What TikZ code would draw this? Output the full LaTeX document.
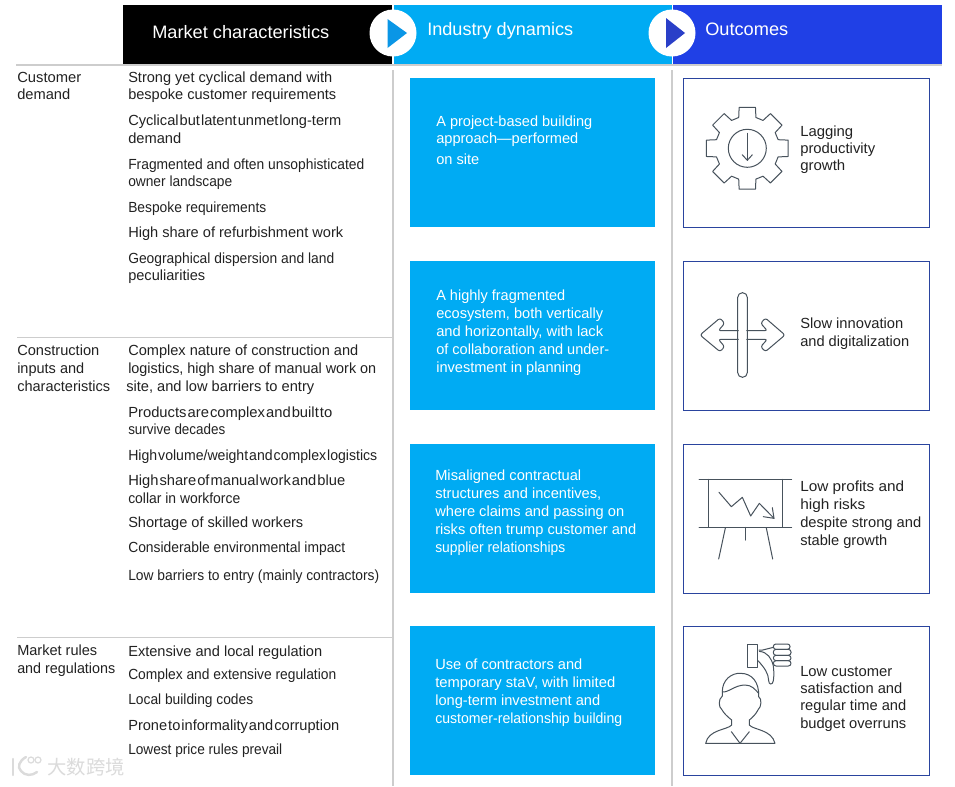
\documentclass[tikz,border=0pt]{standalone}
\usepackage{fontspec}
\setmainfont{Liberation Sans}
\newfontfamily\cjkwm{Noto Sans CJK SC}
\definecolor{lblue}{HTML}{00ABF3}
\definecolor{dblue}{HTML}{2040E6}
\definecolor{tria}{HTML}{0A96E6}
\definecolor{trib}{HTML}{2A3FC8}
\definecolor{bordblue}{HTML}{2A449E}
\definecolor{rulegray}{HTML}{CDCDCD}
\definecolor{icon}{HTML}{47525C}
\definecolor{txt}{HTML}{222222}
\newcommand{\fw}[2]{\strut\resizebox{\dimexpr #1pt*3/4\relax}{\height}{#2}}
\newcommand{\tw}[2]{\strut\resizebox{\dimexpr #1pt*3/4\relax}{\height}{\spaceskip=.07em\relax #2}}
\newcommand{\itm}[5][txt]{\node[item,text=#1] (#2) at (#3,#4-12.13) {#5};}
\newcommand{\itmw}[5][txt]{\node[itemw,text=#1] (#2) at (#3,#4-12.6) {#5};}
\tikzset{
  x=0.75pt,y=-0.75pt,
  item/.style={anchor=north west,inner sep=0pt,align=left,font=\fontsize{11}{13}\selectfont},
  itemw/.style={anchor=north west,inner sep=0pt,align=left,font=\fontsize{11}{13.5}\selectfont},
  head/.style={anchor=base west,inner sep=0pt,text=white,font=\fontsize{13.5}{16}\selectfont},
  bluebox/.style={fill=lblue,draw=none},
  outbox/.style={draw=bordblue,line width=0.6pt,fill=white},
  ico/.style={draw=icon,line width=0.75pt,line join=round,line cap=round},
  wm/.style={draw=black!14,line width=1.8pt,line cap=round}
}
\begin{document}
\begin{tikzpicture}
\useasboundingbox[fill=white] (0,0) rectangle (955,786);
% header bands
\fill[black] (123,5) rectangle (392,64);
\fill[lblue] (394,5) rectangle (671.5,64);
\fill[dblue] (673,5) rectangle (942,64);
% rules
\draw[rulegray,line width=1.5pt] (16,65) -- (942,65);
\draw[rulegray,line width=1.5pt] (393,70) -- (393,786);
\draw[rulegray,line width=1.5pt] (672,70) -- (672,786);
\draw[rulegray,line width=0.75pt] (17,337.5) -- (392,337.5);
\draw[rulegray,line width=0.75pt] (17,637.5) -- (392,637.5);
% header text
\node[head] (h1) at (152,38) {\resizebox{\dimexpr 177pt*3/4\relax}{\height}{Market characteristics}};
\node[head] (h2) at (427,35) {\resizebox{\dimexpr 146pt*3/4\relax}{\height}{Industry dynamics}};
\node[head] (h3) at (705,35) {\resizebox{\dimexpr 83pt*3/4\relax}{\height}{Outcomes}};
% chevrons
\fill[white] (393,33) circle (23.5);
\fill[white] (672,33) circle (23.5);
\fill[tria] (387.5,19) -- (407,33) -- (387.5,48) -- cycle;
\fill[trib] (666,18) -- (685,33) -- (666,48) -- cycle;
% row labels
\itm{l1}{17}{82}{\fw{64}{Customer}\\\fw{53}{demand}}
\itmw{l2}{17}{355}{\fw{82}{Construction}\\\fw{67}{inputs and}\\\fw{93}{characteristics}}
\itmw{l3}{17}{655}{\fw{80}{Market rules}\\\fw{98}{and regulations}}
% market items
\itm{m1}{128}{82}{\fw{204}{Strong yet cyclical demand with}\\\fw{208}{bespoke customer requirements}}
\itmw{m2}{128}{125}{\tw{213}{Cyclical but latent unmet long-term}\\\fw{53}{demand}}
\itm{m3}{128}{169}{\fw{236}{Fragmented and often unsophisticated}\\\fw{104}{owner landscape}}
\itm{m4}{128}{212}{\fw{138}{Bespoke requirements}}
\itm{m5}{128}{237}{\fw{215}{High share of refurbishment work}}
\itm{m6}{128}{263}{\fw{206}{Geographical dispersion and land}\\\fw{77}{peculiarities}}
\itmw{m7}{128}{355}{\fw{230}{Complex nature of construction and}\\\fw{248}{logistics, high share of manual work on}\\\hspace{-1.5pt}\fw{188}{site, and low barriers to entry}}
\itm{m8}{128}{417}{\tw{204}{Products are complex and built to}\\\fw{97}{survive decades}}
\itm{m9}{128}{460}{\tw{249}{High volume/weight and complex logistics}}
\itmw{m10}{128}{485}{\tw{217}{High share of manual work and blue}\\\fw{112}{collar in workforce}}
\itm{m11}{128}{527}{\fw{175}{Shortage of skilled workers}}
\itm{m12}{128}{552}{\fw{217}{Considerable environmental impact}}
\itm{m13}{128}{580}{\fw{251}{Low barriers to entry (mainly contractors)}}
\itm{m14}{128}{656}{\fw{194}{Extensive and local regulation}}
\itm{m15}{128}{679}{\fw{208}{Complex and extensive regulation}}
\itm{m16}{128}{704}{\fw{125}{Local building codes}}
\itm{m17}{128}{730}{\tw{211}{Prone to informality and corruption}}
\itm{m18}{128}{754}{\fw{154}{Lowest price rules prevail}}
% blue boxes
\fill[bluebox] (410,78) rectangle (655,227);
\fill[bluebox] (410,261) rectangle (655,410);
\fill[bluebox] (410,444) rectangle (655,593);
\fill[bluebox] (410,626) rectangle (655,775);
\itm[white]{d1}{436}{126}{\fw{156}{A project-based building}\\\fw{142}{approach—performed}\\[2.8pt]\fw{43}{on site}}
\itmw[white]{d2}{436}{300}{\fw{129}{A highly fragmented}\\\fw{167}{ecosystem, both vertically}\\\fw{167}{and horizontally, with lack}\\\fw{173}{of collaboration and under-}\\\fw{145}{investment in planning}}
\itmw[white]{d3}{435}{480}{\fw{146}{Misaligned contractual}\\\fw{166}{structures and incentives,}\\\fw{189}{where claims and passing on}\\\fw{201}{risks often trump customer and}\\\fw{130}{supplier relationships}}
\itmw[white]{d4}{435}{669}{\fw{147}{Use of contractors and}\\\fw{180}{temporary staV, with limited}\\\fw{165}{long-term investment and}\\\fw{187}{customer-relationship building}}
% outcome boxes
\draw[outbox] (683,78) rectangle (929,227);
\draw[outbox] (683,261) rectangle (929,410);
\draw[outbox] (683,444) rectangle (929,593);
\draw[outbox] (683,626) rectangle (929,775);
\itm{o1}{800}{136}{\fw{53}{Lagging}\\\fw{75}{productivity}\\\fw{45}{growth}}
\itmw{o2}{800}{328}{\fw{103}{Slow innovation}\\\fw{109}{and digitalization}}
\itmw{o3}{800}{491}{\fw{104}{Low profits and}\\\fw{65}{high risks}\\\fw{121}{despite strong and}\\\fw{87}{stable growth}}
\itm{o4}{800}{676}{\fw{92}{Low customer}\\\fw{102}{satisfaction and}\\\fw{106}{regular time and}\\\fw{106}{budget overruns}}
% gear icon
\begin{scope}[shift={(747.3,148.3)}]
\draw[ico] (-11.3:41.7)
  \foreach \a in {0,45,...,315} {
    -- ({\a-11.3}:41.7) -- ({\a+11.3}:41.7) -- ({\a+15.6}:32) -- ({\a+29.4}:32)
  } -- cycle;
\draw[ico] (0,0) circle (19);
\draw[ico] (0,-15) -- (0,12);
\draw[ico] (-5,6.5) -- (0,12) -- (5,6.5);
\end{scope}
% crossroads icon
\begin{scope}[shift={(680,270)},x=0.25pt,y=-0.25pt]
\draw[ico,rounded corners=1.8pt] (175,182) -- (115,182) -- (134,160) -- (120,144) -- (60,195) -- (120,245) -- (134,230) -- (115,208) -- (175,208);
\draw[ico,rounded corners=1.8pt] (200,182) -- (262,182) -- (242,160) -- (256,144) -- (315,195) -- (256,245) -- (242,230) -- (262,208) -- (200,208);
\draw[ico,rounded corners=3.6pt] (173,68) rectangle (202,322);
\end{scope}
% chart icon
\begin{scope}[shift={(685,460)},x=0.25pt,y=-0.25pt]
\draw[ico] (42,58) -- (320,58);
\draw[ico] (42,202) -- (320,202);
\draw[ico] (70,58) -- (70,202);
\draw[ico] (293,58) -- (293,202);
\draw[ico] (102,97) -- (139,140) -- (172,112) -- (197,168) -- (223,130) -- (267,175);
\draw[ico] (235,170) -- (267,175) -- (262,143);
\draw[ico] (121,204) -- (101,297);
\draw[ico] (244,204) -- (263,297);
\draw[ico] (181,202) -- (181,240);
\end{scope}
% customer icon
\begin{scope}[shift={(690,630)},x=0.25pt,y=-0.25pt]
\draw[ico] (172,44) rectangle (203,111);
\draw[ico,rounded corners=1.9pt] (250,42) rectangle (300,58);
\draw[ico,rounded corners=2pt] (250,58) rectangle (303,76);
\draw[ico,rounded corners=2pt] (250,76) rectangle (303,92);
\draw[ico,rounded corners=2pt] (250,92) rectangle (303,108);
\draw[ico] (207,60) -- (218,60) -- (250,52);
\draw[ico] (208,64) .. controls (232,66) and (245,85) .. (250,108) .. controls (252,125) and (252,140) .. (250,152) .. controls (248,166) and (236,165) .. (236,152) .. controls (236,130) and (222,112) .. (204,92);
% head and hair
\draw[ico] (97,188) .. controls (95,150) and (125,128) .. (152,130) .. controls (185,130) and (208,155) .. (206,200) .. controls (216,205) and (214,232) .. (205,238) .. controls (198,252) and (188,262) .. (178,270) -- (178,285) .. controls (190,300) and (245,298) .. (255,340) -- (47,340) .. controls (55,298) and (112,300) .. (125,285) -- (125,270) .. controls (110,258) and (102,250) .. (95,238) .. controls (86,232) and (84,208) .. (97,198) -- cycle;
\draw[ico] (97,186) .. controls (115,188) and (135,165) .. (165,165) .. controls (185,165) and (195,178) .. (206,190);
\draw[ico] (124,305) -- (150,340) -- (178,305);
\end{scope}
% watermark
\node[inner sep=0pt,anchor=center,text=black!14,font=\cjkwm\fontsize{14.5}{16}\selectfont] (wm) at (86,767) {大数跨境};
\draw[wm] (13,759) -- (13,775);
\draw[wm] (26,757) .. controls (19,761) and (17,767) .. (21,771) .. controls (25,776) and (32,776) .. (37,772);
\draw[wm,line width=0.9pt] (31,760) circle (3);
\draw[wm,line width=0.9pt] (38,760) circle (3);
\end{tikzpicture}
\end{document}
